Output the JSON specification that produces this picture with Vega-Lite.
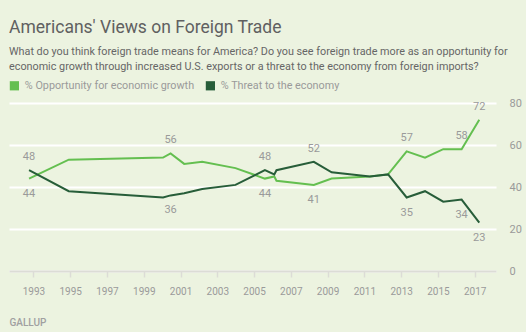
{
  "$schema": "https://vega.github.io/schema/vega-lite/v6.json",
  "width": 487,
  "height": 168,
  "autosize": {"type": "none"},
  "padding": {"left": 9, "top": 103, "right": 30, "bottom": 61},
  "background": "#ecf3e0",
  "title": {
    "text": "Americans' Views on Foreign Trade",
    "subtitle": ["What do you think foreign trade means for America? Do you see foreign trade more as an opportunity for", "economic growth through increased U.S. exports or a threat to the economy from foreign imports?"],
    "anchor": "start",
    "frame": "group",
    "orient": "top",
    "offset": 8,
    "font": "Roboto",
    "fontSize": 17.5,
    "fontWeight": "normal",
    "color": "#606060",
    "subtitleFont": "Roboto",
    "subtitleFontSize": 10.8,
    "subtitleColor": "#666666",
    "subtitleLineHeight": 15,
    "subtitlePadding": 10
  },
  "data": {
    "values": [
      {"t": 1992.76, "series": "% Opportunity for economic growth", "value": 44, "label": true},
      {"t": 1994.92, "series": "% Opportunity for economic growth", "value": 53, "label": false},
      {"t": 2000.05, "series": "% Opportunity for economic growth", "value": 54, "label": false},
      {"t": 2000.46, "series": "% Opportunity for economic growth", "value": 56, "label": true},
      {"t": 2001.2, "series": "% Opportunity for economic growth", "value": 51, "label": false},
      {"t": 2002.18, "series": "% Opportunity for economic growth", "value": 52, "label": false},
      {"t": 2003.99, "series": "% Opportunity for economic growth", "value": 49, "label": false},
      {"t": 2005.59, "series": "% Opportunity for economic growth", "value": 44, "label": true},
      {"t": 2006.1, "series": "% Opportunity for economic growth", "value": 45, "label": false},
      {"t": 2006.22, "series": "% Opportunity for economic growth", "value": 43, "label": false},
      {"t": 2008.25, "series": "% Opportunity for economic growth", "value": 41, "label": true},
      {"t": 2009.22, "series": "% Opportunity for economic growth", "value": 44, "label": false},
      {"t": 2011.3, "series": "% Opportunity for economic growth", "value": 45, "label": false},
      {"t": 2012.29, "series": "% Opportunity for economic growth", "value": 46, "label": false},
      {"t": 2013.3, "series": "% Opportunity for economic growth", "value": 57, "label": true},
      {"t": 2014.3, "series": "% Opportunity for economic growth", "value": 54, "label": false},
      {"t": 2015.29, "series": "% Opportunity for economic growth", "value": 58, "label": false},
      {"t": 2016.29, "series": "% Opportunity for economic growth", "value": 58, "label": true},
      {"t": 2017.25, "series": "% Opportunity for economic growth", "value": 72, "label": true},
      {"t": 1992.76, "series": "% Threat to the economy", "value": 48, "label": true},
      {"t": 1994.92, "series": "% Threat to the economy", "value": 38, "label": false},
      {"t": 2000.05, "series": "% Threat to the economy", "value": 35, "label": false},
      {"t": 2000.46, "series": "% Threat to the economy", "value": 36, "label": true},
      {"t": 2001.2, "series": "% Threat to the economy", "value": 37, "label": false},
      {"t": 2002.18, "series": "% Threat to the economy", "value": 39, "label": false},
      {"t": 2003.99, "series": "% Threat to the economy", "value": 41, "label": false},
      {"t": 2005.59, "series": "% Threat to the economy", "value": 48, "label": true},
      {"t": 2006.1, "series": "% Threat to the economy", "value": 46, "label": false},
      {"t": 2006.22, "series": "% Threat to the economy", "value": 48, "label": false},
      {"t": 2008.25, "series": "% Threat to the economy", "value": 52, "label": true},
      {"t": 2009.22, "series": "% Threat to the economy", "value": 47, "label": false},
      {"t": 2011.3, "series": "% Threat to the economy", "value": 45, "label": false},
      {"t": 2012.29, "series": "% Threat to the economy", "value": 46, "label": false},
      {"t": 2013.3, "series": "% Threat to the economy", "value": 35, "label": true},
      {"t": 2014.3, "series": "% Threat to the economy", "value": 38, "label": false},
      {"t": 2015.29, "series": "% Threat to the economy", "value": 33, "label": false},
      {"t": 2016.29, "series": "% Threat to the economy", "value": 34, "label": true},
      {"t": 2017.25, "series": "% Threat to the economy", "value": 23, "label": true}
    ]
  },
  "encoding": {
    "x": {
      "field": "t",
      "type": "quantitative",
      "scale": {"domain": [1991.67, 2018.16], "nice": false, "zero": false},
      "axis": {
        "values": [1993, 1995, 1997, 1999, 2001, 2003, 2005, 2007, 2009, 2011, 2013, 2015, 2017],
        "format": "d",
        "grid": false,
        "domainColor": "#dcdcd6",
        "domainWidth": 2,
        "tickColor": "#dcdcd6",
        "tickWidth": 1.5,
        "tickSize": 6,
        "labelPadding": 9,
        "labelFont": "Roboto",
        "labelFontSize": 10,
        "labelColor": "#9a9a9a",
        "title": "GALLUP",
        "titleFont": "Roboto",
        "titleFontSize": 10,
        "titleFontWeight": 500,
        "titleColor": "#a0a0a0",
        "titleAnchor": "start",
        "titleAlign": "left",
        "titleX": 0,
        "titleY": 51,
        "titleBaseline": "middle"
      }
    },
    "y": {
      "field": "value",
      "type": "quantitative",
      "scale": {"domain": [0, 80], "nice": false},
      "axis": {
        "orient": "right",
        "values": [0, 20, 40, 60, 80],
        "domain": false,
        "ticks": false,
        "gridColor": "#ffffff",
        "gridWidth": 2,
        "labelPadding": 13,
        "labelFont": "Roboto",
        "labelFontSize": 11,
        "labelColor": "#9a9a9a",
        "title": null
      }
    }
  },
  "layer": [
    {
      "mark": {"type": "line", "strokeWidth": 2},
      "encoding": {
        "color": {
          "field": "series",
          "type": "nominal",
          "scale": {"domain": ["% Opportunity for economic growth", "% Threat to the economy"], "range": ["#64bf50", "#275d39"]},
          "legend": {
            "orient": "none",
            "legendX": 0,
            "legendY": -23,
            "direction": "horizontal",
            "title": null,
            "symbolType": "square",
            "symbolSize": 85,
            "symbolStrokeWidth": 0,
            "symbolOpacity": 1,
            "labelFont": "Roboto",
            "labelFontSize": 10.8,
            "labelColor": "#9a9a9a",
            "labelLimit": 400,
            "labelOffset": 5,
            "columnPadding": 10,
            "encode": {"symbols": {"update": {"fill": {"scale": "color", "field": "value"}, "fillOpacity": {"value": 1}}}}
          }
        }
      }
    },
    {
      "transform": [
        {"joinaggregate": [{"op": "max", "field": "value", "as": "vmax"}], "groupby": ["t"]},
        {"filter": "datum.label && datum.value == datum.vmax"}
      ],
      "mark": {"type": "text", "dy": -13, "font": "Roboto", "fontSize": 11, "color": "#9a9a9a"},
      "encoding": {"text": {"field": "value", "type": "quantitative"}}
    },
    {
      "transform": [
        {"joinaggregate": [{"op": "max", "field": "value", "as": "vmax"}], "groupby": ["t"]},
        {"filter": "datum.label && datum.value < datum.vmax"}
      ],
      "mark": {"type": "text", "dy": 15, "font": "Roboto", "fontSize": 11, "color": "#9a9a9a"},
      "encoding": {"text": {"field": "value", "type": "quantitative"}}
    }
  ],
  "config": {"view": {"stroke": null}}
}
